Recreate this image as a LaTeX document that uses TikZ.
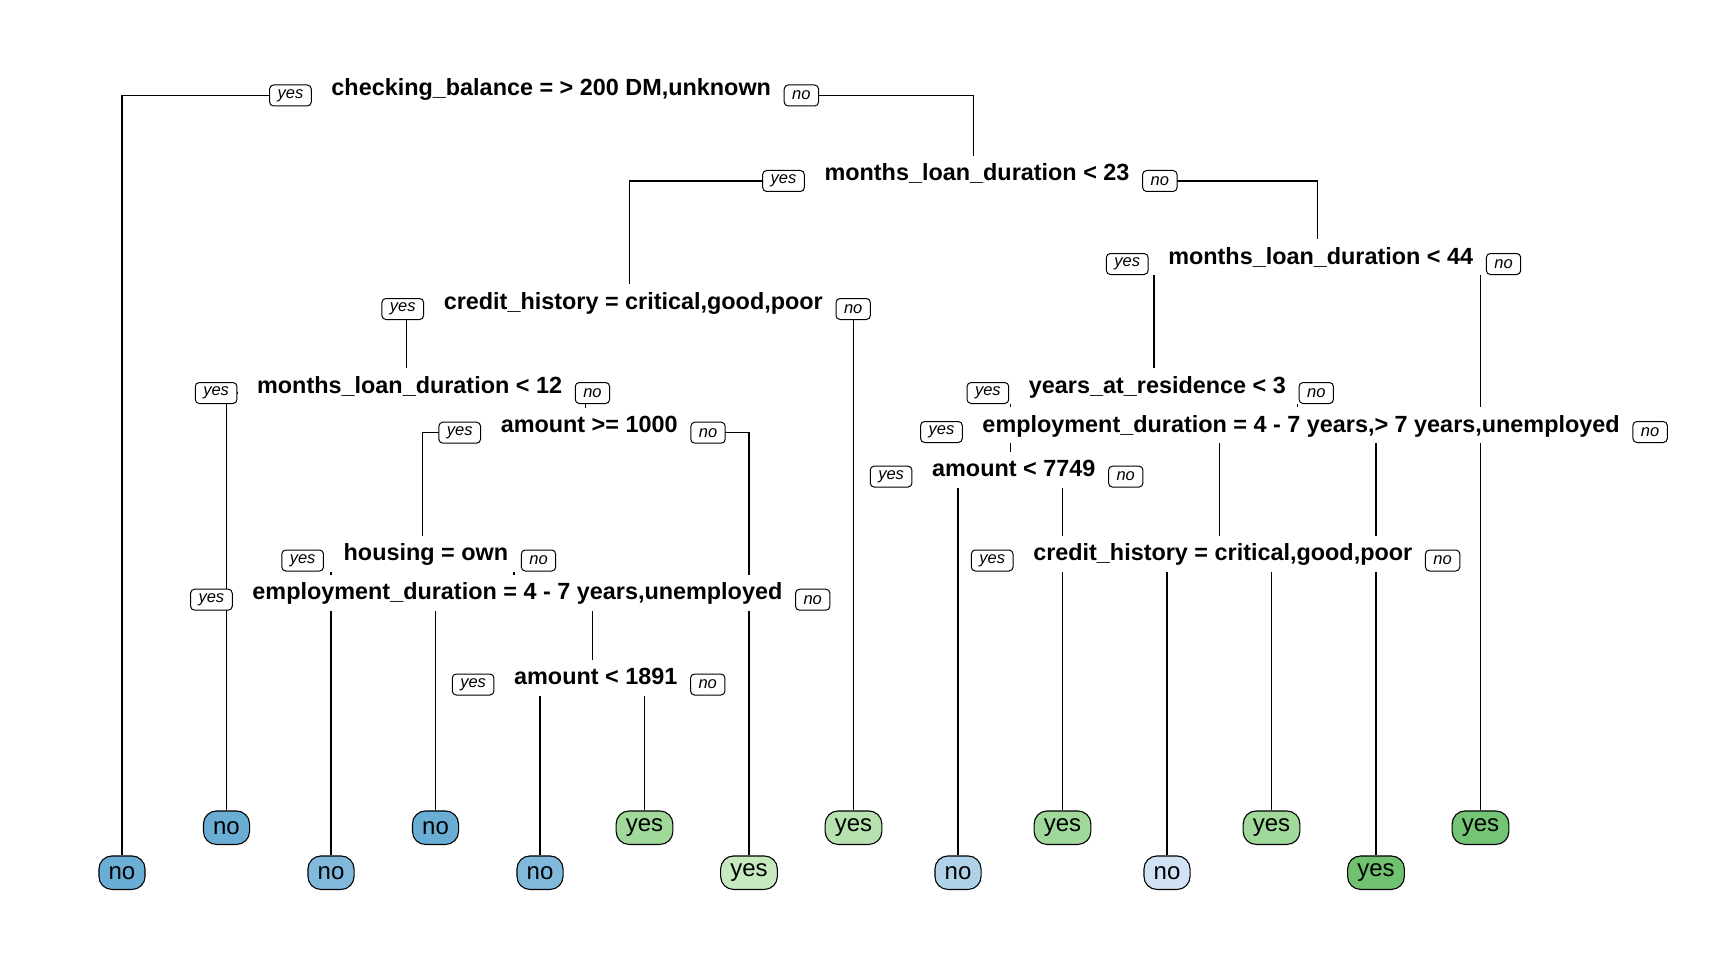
\documentclass[tikz,border=0pt]{standalone}
\usepackage{fontspec}
\setmainfont{Liberation Sans}
\usetikzlibrary{positioning}

\definecolor{bluea}{HTML}{6AAED6}
\definecolor{blueb}{HTML}{80B9DC}
\definecolor{bluec}{HTML}{B0D2E8}
\definecolor{blued}{HTML}{D0E2F3}
\definecolor{greena}{HTML}{A1D99B}
\definecolor{greenb}{HTML}{C7E9C0}
\definecolor{greenc}{HTML}{B7E2AF}
\definecolor{greend}{HTML}{70C270}
\definecolor{greene}{HTML}{74C476}

\begin{document}
\begin{tikzpicture}[x=1pt,y=-1pt,
  branch/.style={line width=1.2pt},
  split/.style={fill=white,anchor=base,inner xsep=19.5pt,inner ysep=8pt,
    text height=17pt,text depth=3pt,font=\fontsize{23.4}{28}\selectfont\bfseries},
  yesbox/.style={draw,fill=white,rounded corners=4pt,line width=1pt,inner xsep=8pt,
    inner ysep=0pt,minimum height=21pt,font=\fontsize{16.5}{20}\selectfont\itshape},
  leaf/.style={draw,line width=1.1pt,rounded corners=13pt,minimum height=33.5pt,
    inner xsep=9.7pt,inner ysep=0pt,font=\fontsize{24}{28}\selectfont}]

  \useasboundingbox (0,0) rectangle (1728,960);

  % leaves
  \node[leaf,fill=bluea] (L0) at (122,872.7) {no};
  \node[leaf,fill=bluea] (L1) at (226.5,827.7) {no};
  \node[leaf,fill=blueb] (L2) at (331,872.7) {no};
  \node[leaf,fill=bluea] (L3) at (435.5,827.7) {no};
  \node[leaf,fill=blueb] (L4) at (540,872.7) {no};
  \node[leaf,fill=greena] (L5) at (644.5,827.7) {yes};
  \node[leaf,fill=greenb] (L6) at (749,872.7) {yes};
  \node[leaf,fill=greenc] (L7) at (853.5,827.7) {yes};
  \node[leaf,fill=bluec] (L8) at (958,872.7) {no};
  \node[leaf,fill=greena] (L9) at (1062.5,827.7) {yes};
  \node[leaf,fill=blued] (L10) at (1167,872.7) {no};
  \node[leaf,fill=greena] (L11) at (1271.5,827.7) {yes};
  \node[leaf,fill=greend] (L12) at (1376,872.7) {yes};
  \node[leaf,fill=greene] (L13) at (1480.5,827.7) {yes};

  % split points
  \coordinate (N1) at (547.75,95.5);
  \coordinate (N3) at (973.5,181);
  \coordinate (N6) at (629.8,309);
  \coordinate (N7) at (1317.2,264);
  \coordinate (N12) at (406.1,393);
  \coordinate (N14) at (1153.9,393);
  \coordinate (N25) at (585.7,432.7);
  \coordinate (N28) at (1010.25,476.6);
  \coordinate (N29) at (1297.6,432);
  \coordinate (N50) at (422.4,560.5);
  \coordinate (N58) at (1219.25,560.5);
  \coordinate (N101) at (513.9,599.7);
  \coordinate (N203) at (592.25,684.5);

  \draw[branch] (L0) |- (N1) -| (N3);
  \draw[branch] (N6) |- (N3) -| (N7);
  \draw[branch] (N12) |- (N6) -| (L7);
  \draw[branch] (L1) |- (N12) -| (N25);
  \draw[branch] (N50) |- (N25) -| (L6);
  \draw[branch] (L2) |- (N50) -| (N101);
  \draw[branch] (L3) |- (N101) -| (N203);
  \draw[branch] (L4) |- (N203) -| (L5);
  \draw[branch] (N14) |- (N7) -| (L13);
  \draw[branch] (N28) |- (N14) -| (N29);
  \draw[branch] (L8) |- (N28) -| (L9);
  \draw[branch] (N58) |- (N29) -| (L12);
  \draw[branch] (L10) |- (N58) -| (L11);

  \node[split] (T1) at ([xshift=3.5pt]N1) {checking\_balance = > 200 DM,unknown};
  \node[yesbox,anchor=east] (Y1) at (T1.base west) {yes};
  \node[yesbox,anchor=west] (X1) at ([xshift=-7pt]T1.base east) {no};

  \node[split] (T3) at ([xshift=3.5pt]N3) {months\_loan\_duration < 23};
  \node[yesbox,anchor=east] (Y3) at (T3.base west) {yes};
  \node[yesbox,anchor=west] (X3) at ([xshift=-7pt]T3.base east) {no};

  \node[split] (T6) at ([xshift=3.5pt]N6) {credit\_history = critical,good,poor};
  \node[yesbox,anchor=east] (Y6) at (T6.base west) {yes};
  \node[yesbox,anchor=west] (X6) at ([xshift=-7pt]T6.base east) {no};

  \node[split] (T7) at ([xshift=3.5pt]N7) {months\_loan\_duration < 44};
  \node[yesbox,anchor=east] (Y7) at (T7.base west) {yes};
  \node[yesbox,anchor=west] (X7) at ([xshift=-7pt]T7.base east) {no};

  \node[split] (T12) at ([xshift=3.5pt]N12) {months\_loan\_duration < 12};
  \node[yesbox,anchor=east] (Y12) at (T12.base west) {yes};
  \node[yesbox,anchor=west] (X12) at ([xshift=-7pt]T12.base east) {no};

  \node[split] (T14) at ([xshift=3.5pt]N14) {years\_at\_residence < 3};
  \node[yesbox,anchor=east] (Y14) at (T14.base west) {yes};
  \node[yesbox,anchor=west] (X14) at ([xshift=-7pt]T14.base east) {no};

  \node[split] (T25) at ([xshift=3.5pt]N25) {amount >= 1000};
  \node[yesbox,anchor=east] (Y25) at (T25.base west) {yes};
  \node[yesbox,anchor=west] (X25) at ([xshift=-7pt]T25.base east) {no};

  \node[split] (T29) at ([xshift=3.5pt]N29) {employment\_duration = 4 - 7 years,> 7 years,unemployed};
  \node[yesbox,anchor=east] (Y29) at (T29.base west) {yes};
  \node[yesbox,anchor=west] (X29) at ([xshift=-7pt]T29.base east) {no};

  \node[split] (T28) at ([xshift=3.5pt]N28) {amount < 7749};
  \node[yesbox,anchor=east] (Y28) at (T28.base west) {yes};
  \node[yesbox,anchor=west] (X28) at ([xshift=-7pt]T28.base east) {no};

  \node[split] (T50) at ([xshift=3.5pt]N50) {housing = own};
  \node[yesbox,anchor=east] (Y50) at (T50.base west) {yes};
  \node[yesbox,anchor=west] (X50) at ([xshift=-7pt]T50.base east) {no};

  \node[split] (T58) at ([xshift=3.5pt]N58) {credit\_history = critical,good,poor};
  \node[yesbox,anchor=east] (Y58) at (T58.base west) {yes};
  \node[yesbox,anchor=west] (X58) at ([xshift=-7pt]T58.base east) {no};

  \node[split] (T101) at ([xshift=3.5pt]N101) {employment\_duration = 4 - 7 years,unemployed};
  \node[yesbox,anchor=east] (Y101) at (T101.base west) {yes};
  \node[yesbox,anchor=west] (X101) at ([xshift=-7pt]T101.base east) {no};

  \node[split] (T203) at ([xshift=3.5pt]N203) {amount < 1891};
  \node[yesbox,anchor=east] (Y203) at (T203.base west) {yes};
  \node[yesbox,anchor=west] (X203) at ([xshift=-7pt]T203.base east) {no};

\end{tikzpicture}
\end{document}
